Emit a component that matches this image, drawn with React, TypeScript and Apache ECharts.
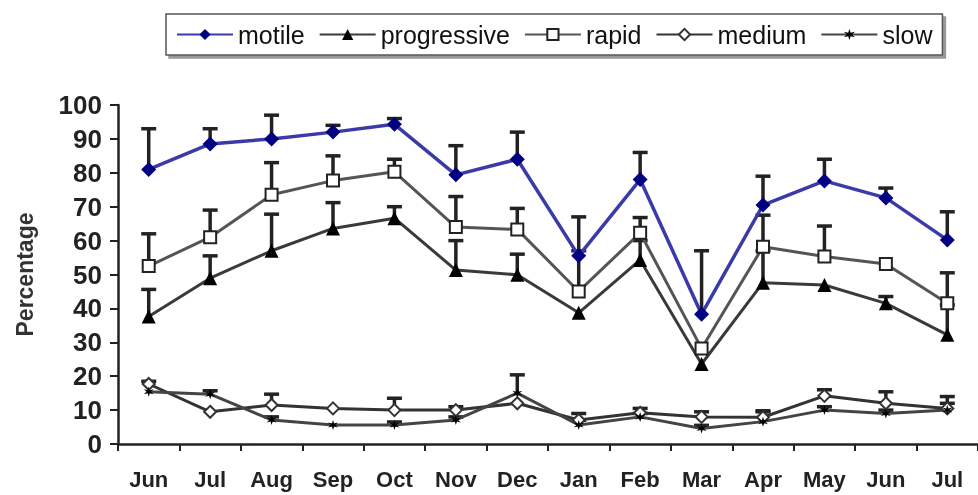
import React, { useEffect, useRef } from "react";
import * as echarts from "echarts";

const months = ["Jun", "Jul", "Aug", "Sep", "Oct", "Nov", "Dec", "Jan", "Feb", "Mar", "Apr", "May", "Jun", "Jul"];
const yTicks = [0, 100, 10];

const motile = [81, 88.5, 90, 92, 94.3, 79.4, 84, 55.5, 78, 38.3, 70.5, 77.6, 72.6, 60.2];
const progressive = [37.6, 48.9, 57, 63.6, 66.6, 51.3, 49.9, 38.7, 54.3, 23.6, 47.6, 46.9, 41.5, 32.2];
const rapid = [52.5, 61, 73.5, 77.7, 80.3, 64, 63.3, 45, 62.3, 28.2, 58.2, 55.3, 53.1, 41.5];
const medium = [17.7, 9.5, 11.5, 10.5, 10, 10, 12, 7.1, 9.2, 8, 7.9, 14.2, 12, 10.5];
const slow = [15.4, 14.7, 7.1, 5.6, 5.6, 7.1, 15, 5.6, 8, 4.6, 6.6, 10, 9, 10];

// upper ends of error bars (null = none visible)
const motileErr = [93, 93, 97, 94, 96, 88, 92, 67, 86, 57, 79, 84, 75.5, 68.5];
const progressiveErr = [45.6, 55.5, 67.8, 71.2, 70, 60, 56, null, 60, null, 57, null, 43.5, 41];
const rapidErr = [62, 69, 83, 85, 84, 73, 69.5, 57, 66.8, null, 67.5, 64.3, null, 50.5];
const mediumErr = [18.5, null, 14.7, null, 13.5, 11, null, 9, 10.5, 9.5, 9.5, 16, 15.4, 14];
const slowErr = [null, 15.7, 8, null, 6.5, 8, 20.4, 7, 9, 5.5, 9.8, 11, 10, 12];

const FONT = "'Liberation Sans', Arial, sans-serif";
const STAR = "path://M0,-10L2,-3L9,-5L4,0L9,5L2,3L0,10L-2,3L-9,5L-4,0L-9,-5L-2,-3Z";

function errSeries(name: string, vals: number[], errs: (number | null)[]) {
  const data: number[][] = [];
  vals.forEach((v, i) => {
    const e = errs[i];
    if (e != null) data.push([i, v, e]);
  });
  return {
    type: "custom",
    name: "err-" + name,
    z: 1,
    silent: true,
    data,
    renderItem: (_params: any, api: any) => {
      const x = api.value(0);
      const p0 = api.coord([x, api.value(1)]);
      const p1 = api.coord([x, api.value(2)]);
      return {
        type: "group",
        children: [
          { type: "line", shape: { x1: p0[0], y1: p0[1], x2: p1[0], y2: p1[1] }, style: { stroke: "#222", lineWidth: 3.5 } },
          { type: "line", shape: { x1: p1[0] - 7.5, y1: p1[1], x2: p1[0] + 7.5, y2: p1[1] }, style: { stroke: "#222", lineWidth: 3.5 } },
        ],
      };
    },
  };
}

export default function App() {
  const ref = useRef<HTMLDivElement>(null);
  useEffect(() => {
    if (!ref.current) return;
    const chart = echarts.init(ref.current, null, { renderer: "svg" });
    const lineBase = (name: string, data: number[], color: string, lineColor: string, symbol: string, size: number, fill: string, lw = 3) => ({
      type: "line",
      name,
      data,
      z: 3,
      symbol,
      symbolSize: size,
      showAllSymbol: true,
      lineStyle: { color: lineColor, width: lw },
      itemStyle: { color: fill, borderColor: color, borderWidth: fill === "#fff" ? 2 : 0 },
    });
    chart.setOption({
      animation: false,
      textStyle: { fontFamily: FONT },
      legend: {
        data: ["motile", "progressive", "rapid", "medium", "slow"],
        left: 166,
        top: 14,
        padding: [8, 10, 8, 10],
        itemWidth: 56,
        itemHeight: 14,
        itemGap: 14,
        backgroundColor: "#fff",
        borderColor: "#555",
        borderWidth: 1.5,
        shadowColor: "#999",
        shadowOffsetX: 3,
        shadowOffsetY: 3,
        shadowBlur: 0,
        textStyle: { fontSize: 25, color: "#111", fontFamily: FONT },
      },
      grid: { left: 118, right: -7, top: 105, bottom: 51 },
      xAxis: {
        type: "category",
        data: months,
        boundaryGap: true,
        axisLine: { lineStyle: { color: "#222", width: 2.5 } },
        axisTick: { show: true, length: 7, lineStyle: { color: "#222", width: 2 } },
        axisLabel: { fontSize: 22, fontWeight: "bold", color: "#222", margin: 24, fontFamily: FONT },
      },
      yAxis: {
        type: "value",
        min: yTicks[0],
        max: yTicks[1],
        interval: yTicks[2],
        name: "Percentage",
        nameLocation: "middle",
        nameGap: 82,
        nameTextStyle: { fontSize: 23, fontWeight: "bold", color: "#333", fontFamily: FONT },
        splitLine: { show: false },
        axisLine: { show: true, lineStyle: { color: "#222", width: 2.5 } },
        axisTick: { show: true, length: 8, lineStyle: { color: "#222", width: 2 } },
        axisLabel: { fontSize: 26, fontWeight: "bold", color: "#222", margin: 16, fontFamily: FONT },
      },
      series: [
        errSeries("motile", motile, motileErr),
        errSeries("progressive", progressive, progressiveErr),
        errSeries("rapid", rapid, rapidErr),
        errSeries("medium", medium, mediumErr),
        errSeries("slow", slow, slowErr),
        lineBase("motile", motile, "#000080", "#3a3aa8", "diamond", 15, "#000080", 3.5),
        lineBase("progressive", progressive, "#000", "#3a3a3a", "triangle", 14, "#000"),
        lineBase("rapid", rapid, "#222", "#555", "rect", 12, "#fff"),
        lineBase("medium", medium, "#333", "#333", "diamond", 12, "#fff"),
        lineBase("slow", slow, "#000", "#444", STAR, 10, "#000"),
      ],
    });
    return () => chart.dispose();
  }, []);
  return <div ref={ref} style={{ position: "fixed", left: 0, top: 0, width: 978, height: 495 }} />;
}
